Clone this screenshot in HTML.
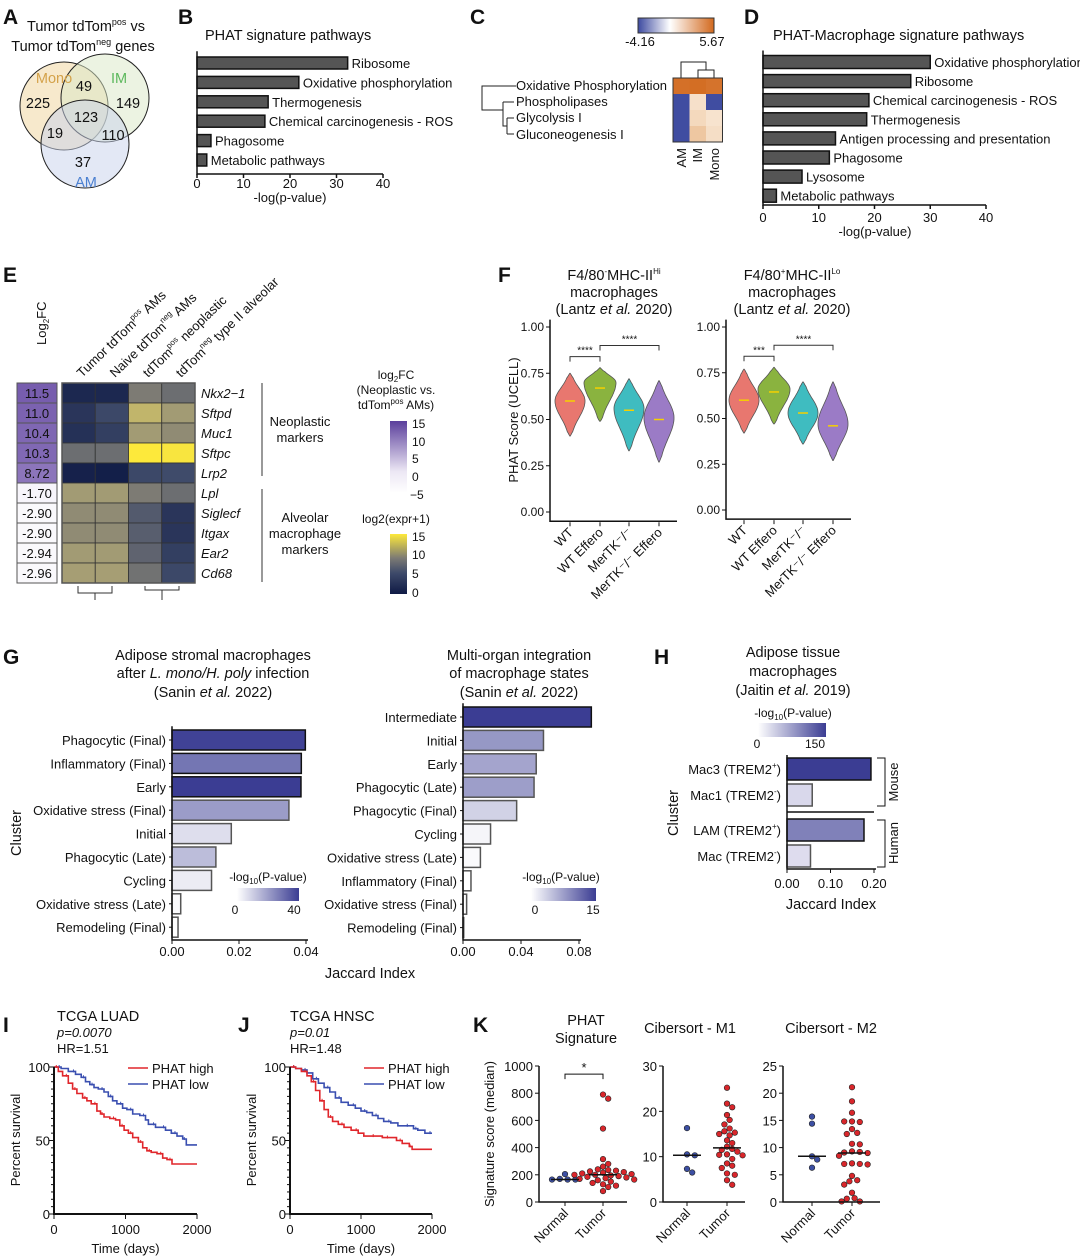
<!DOCTYPE html>
<html><head><meta charset="utf-8">
<style>
html,body{margin:0;padding:0;background:#fff;}
svg{display:block;font-family:"Liberation Sans",Arial,sans-serif;}
text{fill:#111;}
.pl{font-weight:bold;font-size:21px;}
.t{font-size:14.5px;}
.s{font-size:13px;}
.xs{font-size:12px;}
</style></head>
<body>
<svg id="fig" width="1080" height="1256" viewBox="0 0 1080 1256" xmlns="http://www.w3.org/2000/svg">
<!-- Panel letters -->
<text class="pl" x="3" y="24">A</text>
<text class="pl" x="178" y="24">B</text>
<text class="pl" x="470" y="24">C</text>
<text class="pl" x="744" y="24">D</text>
<text class="pl" x="3" y="282">E</text>
<text class="pl" x="498" y="282">F</text>
<text class="pl" x="3" y="664">G</text>
<text class="pl" x="654" y="664">H</text>
<text class="pl" x="3" y="1032">I</text>
<text class="pl" x="238" y="1032">J</text>
<text class="pl" x="473" y="1032">K</text>

<!-- Panel A Venn -->
<g>
<text class="t" x="86" y="31" text-anchor="middle">Tumor tdTom<tspan font-size="9" dy="-6">pos</tspan><tspan dy="6"> vs</tspan></text>
<text class="t" x="83" y="51" text-anchor="middle">Tumor tdTom<tspan font-size="9" dy="-6">neg</tspan><tspan dy="6"> genes</tspan></text>
<circle cx="64" cy="106" r="44" fill="#f0d49a" fill-opacity="0.5" stroke="#222" stroke-width="1"/>
<circle cx="105" cy="98" r="44" fill="#d9e8c6" fill-opacity="0.5" stroke="#222" stroke-width="1"/>
<circle cx="85" cy="144" r="44" fill="#c8d2ec" fill-opacity="0.5" stroke="#222" stroke-width="1"/>
<text class="t" x="54" y="83" text-anchor="middle" style="fill:#d4a24a">Mono</text>
<text class="t" x="119" y="83" text-anchor="middle" style="fill:#5cb85c">IM</text>
<text class="t" x="86" y="187" text-anchor="middle" style="fill:#4a7fd0">AM</text>
<text class="t" x="84" y="91" text-anchor="middle">49</text>
<text class="t" x="38" y="108" text-anchor="middle">225</text>
<text class="t" x="128" y="108" text-anchor="middle">149</text>
<text class="t" x="86" y="122" text-anchor="middle">123</text>
<text class="t" x="55" y="138" text-anchor="middle">19</text>
<text class="t" x="113" y="140" text-anchor="middle">110</text>
<text class="t" x="83" y="167" text-anchor="middle">37</text>
</g>

<!-- Panel C static -->
<g>
<defs>
<linearGradient id="gC" x1="0" x2="1"><stop offset="0" stop-color="#3d4aa0"/><stop offset="0.42" stop-color="#ffffff"/><stop offset="1" stop-color="#d2691e"/></linearGradient>
<linearGradient id="gPur" x1="0" x2="0" y1="1" y2="0"><stop offset="0" stop-color="#ffffff"/><stop offset="0.3" stop-color="#ece7f4"/><stop offset="1" stop-color="#5b3f9c"/></linearGradient>
<linearGradient id="gExp" x1="0" x2="0" y1="1" y2="0"><stop offset="0" stop-color="#0f1a45"/><stop offset="0.35" stop-color="#3e4a6a"/><stop offset="0.6" stop-color="#7d7b74"/><stop offset="1" stop-color="#fde93b"/></linearGradient>
<linearGradient id="gG1" x1="0" x2="1"><stop offset="0" stop-color="#ffffff"/><stop offset="1" stop-color="#3b3d93"/></linearGradient>
</defs>
<rect x="638" y="18" width="76" height="15" fill="url(#gC)" stroke="#333"/>
<text class="s" x="640" y="46" text-anchor="middle">-4.16</text>
<text class="s" x="712" y="46" text-anchor="middle">5.67</text>
<path d="M516 86 H482 V110 H503 M503 102 V126 M503 102 H514 M503 118 V126 H507 M507 118 V134 M507 118 H514 M507 134 H514" fill="none" stroke="#222"/>
<path d="M681 78 V62 H706 V70 M698 78 V70 H714 V78" fill="none" stroke="#222"/>
<text class="s" x="516" y="90">Oxidative Phosphorylation</text>
<text class="s" x="516" y="106">Phospholipases</text>
<text class="s" x="516" y="122">Glycolysis I</text>
<text class="s" x="516" y="139">Gluconeogenesis I</text>
<g id="cHeat"></g>
<text class="s" transform="translate(686,148) rotate(-90)" text-anchor="end">AM</text>
<text class="s" transform="translate(702,148) rotate(-90)" text-anchor="end">IM</text>
<text class="s" transform="translate(719,148) rotate(-90)" text-anchor="end">Mono</text>
</g>

<g id="panelB">
<text class="t" x="205" y="40">PHAT signature pathways</text>
</g>
<g id="panelD">
<text class="t" x="773" y="40">PHAT-Macrophage signature pathways</text>
</g>

<!-- Panel E static -->
<g id="panelE">
<text class="s" transform="translate(46,345) rotate(-90)">Log<tspan font-size="8" dy="3">2</tspan><tspan dy="-3">FC</tspan></text>
<line x1="262" y1="383" x2="262" y2="476" stroke="#333"/>
<line x1="262" y1="489" x2="262" y2="582" stroke="#333"/>
<text class="s" x="300" y="426" text-anchor="middle">Neoplastic</text>
<text class="s" x="300" y="442" text-anchor="middle">markers</text>
<text class="s" x="305" y="522" text-anchor="middle">Alveolar</text>
<text class="s" x="305" y="538" text-anchor="middle">macrophage</text>
<text class="s" x="305" y="554" text-anchor="middle">markers</text>
<text class="xs" x="396" y="379" text-anchor="middle">log<tspan font-size="8" dy="3">2</tspan><tspan dy="-3">FC</tspan></text>
<text class="xs" x="396" y="394" text-anchor="middle">(Neoplastic vs.</text>
<text class="xs" x="396" y="409" text-anchor="middle">tdTom<tspan font-size="8" dy="-5">pos</tspan><tspan dy="5"> AMs)</tspan></text>
<rect x="390" y="421" width="17" height="72" fill="url(#gPur)"/>
<text class="xs" x="412" y="428">15</text>
<text class="xs" x="412" y="446">10</text>
<text class="xs" x="412" y="463">5</text>
<text class="xs" x="412" y="481">0</text>
<text class="xs" x="410" y="499">−5</text>
<text class="xs" x="396" y="523" text-anchor="middle">log2(expr+1)</text>
<rect x="390" y="534" width="17" height="60" fill="url(#gExp)"/>
<text class="xs" x="412" y="541">15</text>
<text class="xs" x="412" y="559">10</text>
<text class="xs" x="412" y="578">5</text>
<text class="xs" x="412" y="597">0</text>
<path d="M78 586 V593 H112 V586 M95 593 V600 M145 586 V590 H179 V586 M162 590 V600" fill="none" stroke="#333"/>
</g>

<g id="panelF">
<text font-size="13" transform="translate(518,420) rotate(-90)" text-anchor="middle">PHAT Score (UCELL)</text>
<text class="t" x="614" y="280" text-anchor="middle">F4/80<tspan font-size="8" dy="-6">-</tspan><tspan dy="6">MHC-II</tspan><tspan font-size="8" dy="-6">Hi</tspan></text>
<text class="t" x="614" y="297" text-anchor="middle">macrophages</text>
<text class="t" x="614" y="314" text-anchor="middle">(Lantz <tspan font-style="italic">et al.</tspan> 2020)</text>
<text class="t" x="792" y="280" text-anchor="middle">F4/80<tspan font-size="8" dy="-6">+</tspan><tspan dy="6">MHC-II</tspan><tspan font-size="8" dy="-6">Lo</tspan></text>
<text class="t" x="792" y="297" text-anchor="middle">macrophages</text>
<text class="t" x="792" y="314" text-anchor="middle">(Lantz <tspan font-style="italic">et al.</tspan> 2020)</text>
</g>

<g id="panelG">
<text class="t" x="213" y="660" text-anchor="middle">Adipose stromal macrophages</text>
<text class="t" x="213" y="678" text-anchor="middle">after <tspan font-style="italic">L. mono/H. poly</tspan> infection</text>
<text class="t" x="213" y="697" text-anchor="middle">(Sanin <tspan font-style="italic">et al.</tspan> 2022)</text>
<text class="t" x="519" y="660" text-anchor="middle">Multi-organ integration</text>
<text class="t" x="519" y="678" text-anchor="middle">of macrophage states</text>
<text class="t" x="519" y="697" text-anchor="middle">(Sanin <tspan font-style="italic">et al.</tspan> 2022)</text>
<text class="t" transform="translate(21,833) rotate(-90)" text-anchor="middle">Cluster</text>
<text class="t" x="370" y="978" text-anchor="middle">Jaccard Index</text>
<text class="xs" x="268" y="881" text-anchor="middle">-log<tspan font-size="8" dy="3">10</tspan><tspan dy="-3">(P-value)</tspan></text>
<rect x="237" y="888" width="62" height="13" fill="url(#gG1)"/>
<text class="xs" x="235" y="914" text-anchor="middle">0</text>
<text class="xs" x="294" y="914" text-anchor="middle">40</text>
<text class="xs" x="561" y="881" text-anchor="middle">-log<tspan font-size="8" dy="3">10</tspan><tspan dy="-3">(P-value)</tspan></text>
<rect x="531" y="888" width="65" height="13" fill="url(#gG1)"/>
<text class="xs" x="535" y="914" text-anchor="middle">0</text>
<text class="xs" x="593" y="914" text-anchor="middle">15</text>
</g>

<g id="panelH">
<text class="t" x="793" y="657" text-anchor="middle">Adipose tissue</text>
<text class="t" x="793" y="676" text-anchor="middle">macrophages</text>
<text class="t" x="793" y="695" text-anchor="middle">(Jaitin <tspan font-style="italic">et al.</tspan> 2019)</text>
<text class="xs" x="793" y="717" text-anchor="middle">-log<tspan font-size="8" dy="3">10</tspan><tspan dy="-3">(P-value)</tspan></text>
<rect x="758" y="723" width="68" height="14" fill="url(#gG1)"/>
<text class="xs" x="757" y="748" text-anchor="middle">0</text>
<text class="xs" x="815" y="748" text-anchor="middle">150</text>
<text class="t" transform="translate(678,813) rotate(-90)" text-anchor="middle">Cluster</text>
<text class="t" x="831" y="909" text-anchor="middle">Jaccard Index</text>
<line x1="787" y1="812" x2="874" y2="812" stroke="#111" stroke-width="1.5"/>
<path d="M877 758 H885 V806 H877" fill="none" stroke="#111"/>
<path d="M877 820 H885 V867 H877" fill="none" stroke="#111"/>
<text class="s" transform="translate(898,782) rotate(-90)" text-anchor="middle">Mouse</text>
<text class="s" transform="translate(898,843) rotate(-90)" text-anchor="middle">Human</text>
</g>

<g id="panelIJ">
<text class="t" x="57" y="1021">TCGA LUAD</text>
<text class="s" x="57" y="1037" font-style="italic">p=0.0070</text>
<text class="s" x="57" y="1053">HR=1.51</text>
<text class="t" x="290" y="1021">TCGA HNSC</text>
<text class="s" x="290" y="1037" font-style="italic">p=0.01</text>
<text class="s" x="290" y="1053">HR=1.48</text>
</g>

<g id="panelK">
<text class="t" x="586" y="1025" text-anchor="middle">PHAT</text>
<text class="t" x="586" y="1043" text-anchor="middle">Signature</text>
<text class="t" x="690" y="1033" text-anchor="middle">Cibersort - M1</text>
<text class="t" x="831" y="1033" text-anchor="middle">Cibersort - M2</text>
<text class="s" transform="translate(494,1134) rotate(-90)" text-anchor="middle">Signature score (median)</text>
</g>
</svg>

<script>
// ---------- DATA ----------
const bCategories = ["Ribosome","Oxidative phosphorylation","Thermogenesis","Chemical carcinogenesis - ROS","Phagosome","Metabolic pathways"];
const bValues = [32.4, 21.9, 15.3, 14.6, 3.0, 2.1];
const bTicks = [0,10,20,30,40];
const dCategories = ["Oxidative phosphorylation","Ribosome","Chemical carcinogenesis - ROS","Thermogenesis","Antigen processing and presentation","Phagosome","Lysosome","Metabolic pathways"];
const dValues = [30.0, 26.5, 19.0, 18.6, 13.0, 11.9, 7.0, 2.4];
const dTicks = [0,10,20,30,40];
const cRows = ["Oxidative Phosphorylation","Phospholipases","Glycolysis I","Gluconeogenesis I"];
const cCols = ["AM","IM","Mono"];
const cValues = [[5.4,5.5,5.3],[-4.1,1.2,-4.1],[-4.1,1.5,1.1],[-4.1,2.2,1.3]];
const eGenes = ["Nkx2\u22121","Sftpd","Muc1","Sftpc","Lrp2","Lpl","Siglecf","Itgax","Ear2","Cd68"];
const eLog2FC = [11.5, 11.0, 10.4, 10.3, 8.72, -1.70, -2.90, -2.90, -2.94, -2.96];
const eLog2FCLabels = ["11.5","11.0","10.4","10.3","8.72","-1.70","-2.90","-2.90","-2.94","-2.96"];
const eExpr = [[1.5,1.5,9,8],[3,5,12.5,11],[2.5,4,11,10],[8,8,15,14.8],[0.8,0.5,5,5.3],[11,11,9,8],[10,10,6.5,3],[10,10,6.8,3],[11,11,7.2,4],[11.2,11.2,8.3,5]];
const eColumns = ["Tumor tdTom|pos| AMs","Naive tdTom|neg| AMs","tdTom|pos| neoplastic","tdTom|neg| type II alveolar"];
const fGroups = ["WT","WT Effero","MerTK\u207B/\u207B","MerTK\u207B/\u207B Effero"];
const fLeftMin = [0.41,0.49,0.33,0.27];
const fLeftMax = [0.75,0.78,0.72,0.71];
const fLeftMedian = [0.60,0.67,0.55,0.50];
const fLeftMode = [0.60,0.70,0.56,0.51];
const fRightMin = [0.42,0.47,0.36,0.27];
const fRightMax = [0.77,0.78,0.70,0.70];
const fRightMedian = [0.60,0.645,0.53,0.46];
const fRightMode = [0.60,0.66,0.53,0.47];
const fTicks = [0,0.25,0.5,0.75,1.0];
const fTickLabels = ["0.00","0.25","0.50","0.75","1.00"];
const gLeftCats = ["Phagocytic (Final)","Inflammatory (Final)","Early","Oxidative stress (Final)","Initial","Phagocytic (Late)","Cycling","Oxidative stress (Late)","Remodeling (Final)"];
const gLeftValues = [0.0398,0.0386,0.0385,0.0349,0.0177,0.0131,0.0118,0.0026,0.0018];
const gLeftP = [40,29,41,21,7,14,4,1,0];
const gRightCats = ["Intermediate","Initial","Early","Phagocytic (Late)","Phagocytic (Final)","Cycling","Oxidative stress (Late)","Inflammatory (Final)","Oxidative stress (Final)","Remodeling (Final)"];
const gRightValues = [0.0885,0.0555,0.0505,0.0490,0.0370,0.0190,0.0120,0.0055,0.0025,0.0005];
const gRightP = [15,8,7,7.5,3.5,0.8,0.4,0,0,0];
const gLeftTicks = [0,0.02,0.04];
const gRightTicks = [0,0.04,0.08];
const hCats = ["Mac3 (TREM2|+|)","Mac1 (TREM2|-|)","LAM (TREM2|+|)","Mac (TREM2|-|)"];
const hValues = [0.193,0.058,0.177,0.054];
const hP = [175,15,105,10];
const hTicks = [0,0.1,0.2];
const iHighT = [0,60,120,200,260,320,400,460,520,600,650,700,780,860,920,980,1040,1100,1180,1240,1300,1360,1440,1520,1580,1650,2000];
const iHighS = [100,97,94,89,85,82,79,77,75,70,68,66,65,64,60,57,55,52,49,45,43,42,41,38,37,34,34];
const iLowT  = [0,100,200,300,380,440,500,560,620,700,760,820,880,960,1020,1100,1200,1280,1320,1420,1500,1560,1640,1720,1800,1850,2000];
const iLowS  = [100,99,97,95,93,90,88,86,85,83,80,77,75,72,71,68,67,64,61,59,59,57,55,53,51,47,47];
const jHighT = [0,80,160,240,300,360,420,480,540,600,680,760,860,960,1040,1200,1300,1400,1500,1580,1680,1720,2000];
const jHighS = [100,99,97,94,90,84,77,71,66,63,61,59,57,55,53,53,52,52,50,48,46,44,44];
const jLowT  = [0,80,160,240,320,400,480,560,640,720,820,920,1000,1080,1160,1240,1320,1420,1520,1680,1740,1800,1900,2000];
const jLowS  = [100,99,98,96,92,89,86,83,79,76,74,72,70,69,67,65,63,62,60,60,58,57,55,55];
const survTicksX = [0,1000,2000];
const survTicksY = [0,50,100];
const kCats = ["Normal","Tumor"];
const kPhatNormal = [205,165,170,165,165];
const kPhatTumor = [790,760,540,315,280,260,240,235,230,225,220,215,210,205,200,200,195,190,185,180,175,170,165,160,150,140,130,120,110,80];
const kM1Normal = [16.3,10.5,10.3,7.3,6.5];
const kM1Tumor = [25.2,21.7,20.9,19.2,18.1,17.1,16.2,15.6,15.3,15.0,14.7,13.6,13.0,12.2,11.7,11.5,11.1,10.5,10.4,10.3,9.5,8.5,8.0,7.5,6.3,6.0,4.8,3.8];
const kM2Normal = [15.7,14.4,8.4,7.8,6.3];
const kM2Tumor = [21.1,18.5,16.4,14.8,14.7,14.8,13.4,12.7,12.5,10.7,10.6,9.3,9.2,9.1,9.0,8.5,7.1,7.0,7.0,6.9,4.8,4.0,3.8,3.2,1.7,0.7,0.6,0.1,0.1];
const kPhatTicks = [0,200,400,600,800,1000];
const kM1Ticks = [0,10,20,30];
const kM2Ticks = [0,5,10,15,20,25];

// ---------- HELPERS ----------
const NS = "http://www.w3.org/2000/svg";
function mk(tag, attrs, parent){ const e=document.createElementNS(NS,tag); for(const k in attrs) e.setAttribute(k,attrs[k]); (parent||document.getElementById('fig')).appendChild(e); return e; }
function lerp(a,b,t){return a+(b-a)*t;}
function hex(c){return [parseInt(c.slice(1,3),16),parseInt(c.slice(3,5),16),parseInt(c.slice(5,7),16)];}
function mix(stops, t){ t=Math.max(0,Math.min(1,t)); for(let i=0;i<stops.length-1;i++){ const [p0,c0]=stops[i],[p1,c1]=stops[i+1]; if(t<=p1){ const u=(t-p0)/(p1-p0||1); const a=hex(c0),b=hex(c1); return 'rgb('+a.map((v,j)=>Math.round(lerp(v,b[j],u))).join(',')+')'; } } return stops[stops.length-1][1]; }
function supText(parent, x, y, str, cls, anchor){
  const t=mk('text',{x:x,y:y,'class':cls,'text-anchor':anchor||'start'},parent);
  const parts=str.split('|');
  parts.forEach((p,i)=>{ const ts=mk('tspan',{},t); if(i%2===1){ts.setAttribute('font-size','8');ts.setAttribute('dy','-6');} else if(i>0){ts.setAttribute('dy','6');} ts.textContent=p; });
  return t;
}

// ---------- Panel B & D ----------
function hbar(gid, cats, vals, ticks, x0, x1, y0, step, bh, axisY, tickY, title, titleX, prefix){
  const g=document.getElementById(gid);
  const sx=v=>x0+(v-ticks[0])/(ticks[ticks.length-1]-ticks[0])*(x1-x0);
  cats.forEach((c,i)=>{
    const y=y0+i*step;
    const r=mk('rect',{x:sx(0),y:y-bh/2,width:sx(vals[i])-sx(0),height:bh,fill:'#555',stroke:'#111','stroke-width':1.5},g);
    
    
    const t=mk('text',{x:sx(vals[i])+4,y:y+5,'class':'s'},g); t.textContent=c;
    
    
  });
  const ax=mk('path',{d:`M${x0} ${y0-step/2-2} V${axisY} H${x1}`,fill:'none',stroke:'#111','stroke-width':1.5},g);
  
  
  ticks.forEach(v=>{
    mk('line',{x1:sx(v),x2:sx(v),y1:axisY,y2:axisY+4,stroke:'#111','stroke-width':1.5},g);
    const t=mk('text',{x:sx(v),y:tickY,'text-anchor':'middle','class':'s'},g); t.textContent=v;
    
    
  });
  const tt=mk('text',{x:titleX,y:tickY+14,'text-anchor':'middle','class':'s'},g); tt.textContent=title;
  
  
}
hbar('panelB',bCategories,bValues,bTicks,197,383,63,19.4,12,174,188,'-log(p-value)',290,'b');
hbar('panelD',dCategories,dValues,dTicks,763,986,62,19.1,13,205,222,'-log(p-value)',875,'d');

// ---------- Panel C ----------
(function(){
  const g=document.getElementById('cHeat');
  const stopsC=[[0,'#3d4aa0'],[0.42,'#ffffff'],[0.6,'#f2d3b3'],[1,'#d2691e']];
  cValues.forEach((row,i)=>row.forEach((v,j)=>{
    const r=mk('rect',{x:673+j*16.5,y:78+i*16,width:16.5,height:16,fill:mix(stopsC,(v+4.16)/9.83)},g);
    
    
  }));
  const b=mk('rect',{x:673,y:78,width:49.5,height:64,fill:'none',stroke:'#333'},g);
  
  
})();

// ---------- Panel E ----------
(function(){
  const g=document.getElementById('panelE');
  const stopsP=[[0,'#ffffff'],[0.3,'#f1edf7'],[0.6,'#9a84c4'],[1,'#5b3f9c']];
  const stopsE=[[0,'#0f1a45'],[0.35,'#3e4a6a'],[0.6,'#7d7b74'],[0.8,'#b5ab74'],[1,'#fde93b']];
  const y0=383,h=20;
  eGenes.forEach((gn,i)=>{
    const y=y0+i*h;
    const r=mk('rect',{x:17,y:y,width:40,height:h,fill:mix(stopsP,(eLog2FC[i]+5)/20),stroke:'#555','stroke-width':1},g);
    
    
    const t=mk('text',{x:37,y:y+15,'text-anchor':'middle','class':'s'},g); t.textContent=eLog2FCLabels[i];
    
    
    eExpr[i].forEach((v,j)=>{
      const c=mk('rect',{x:62+j*33.25,y:y,width:33.25,height:h,fill:mix(stopsE,v/15),stroke:'#333','stroke-width':0.8},g);
      
      
    });
    const gl=mk('text',{x:201,y:y+15,'class':'s','font-style':'italic'},g); gl.textContent=gn;
    
    
  });
  const bd=mk('rect',{x:62,y:y0,width:133,height:200,fill:'none',stroke:'#555','stroke-width':1.5},g);
  
  
  eColumns.forEach((c,j)=>{
    const x=82+j*33, y=378;
    const t=mk('text',{transform:`translate(${x},${y}) rotate(-44)`,'class':'s'},g);
    c.split('|').forEach((p,k)=>{ const ts=mk('tspan',{},t); if(k%2===1){ts.setAttribute('font-size','8');ts.setAttribute('dy','-6');} else if(k>0){ts.setAttribute('dy','6');} ts.textContent=p; });
    
    
  });
})();

// ---------- Panel F ----------
function violinPanel(ax0, ax1, y0v, y1v, cx, mins, maxs, meds, modes, stars, prefix){
  const g=document.getElementById('panelF');
  const sy=v=>y0v+(y1v-y0v)*v;
  const cols=['#e8776f','#8ab33f','#3fbcc0','#9b7bc6'];
  const hw=[15,16,15,15];
  fGroups.forEach((grp,i)=>{
    const N=40, L=[], R=[];
    for(let k=0;k<=N;k++){
      const v=mins[i]+(maxs[i]-mins[i])*k/N;
      const s=v<modes[i]?(modes[i]-mins[i])/1.5:(maxs[i]-modes[i])/1.5;
      let w=hw[i]*Math.exp(-Math.pow((v-modes[i])/s,2));
      w*=Math.min(1,Math.sqrt(Math.min(k,N-k)/3+0.01));
      L.push([cx[i]-w,sy(v)]); R.push([cx[i]+w,sy(v)]);
    }
    const pts=L.concat(R.reverse());
    const p=mk('path',{d:'M'+pts.map(q=>q[0].toFixed(1)+' '+q[1].toFixed(1)).join(' L')+'Z',fill:cols[i],stroke:'#555','stroke-width':0.8},g);
    
    
    const m=mk('line',{x1:cx[i]-5,x2:cx[i]+5,y1:sy(meds[i]),y2:sy(meds[i]),stroke:'#f5d000','stroke-width':1.5},g);
    
    
    mk('line',{x1:cx[i],x2:cx[i],y1:sy(-0.05)+1,y2:sy(-0.05)+5,stroke:'#111'},g);
    const t=mk('text',{transform:`translate(${cx[i]+4},${sy(-0.05)+12}) rotate(-45)`,'text-anchor':'end','class':'s'},g); t.textContent=grp;
    
    
  });
  const a=mk('path',{d:`M${ax0} ${sy(1.04)} V${sy(-0.05)} H${ax1}`,fill:'none',stroke:'#111','stroke-width':1.5},g);
  
  
  fTicks.forEach((v,k)=>{
    mk('line',{x1:ax0-4,x2:ax0,y1:sy(v),y2:sy(v),stroke:'#111'},g);
    const t=mk('text',{x:ax0-6,y:sy(v)+4,'text-anchor':'end','class':'xs'},g); t.textContent=fTickLabels[k];
    
    
  });
  const br=[[0,1,0.84,stars[0]],[1,3,0.90,stars[1]]];
  br.forEach(b=>{
    const y=sy(b[2]);
    const p=mk('path',{d:`M${cx[b[0]]} ${y+5} V${y} H${cx[b[1]]} V${y+5}`,fill:'none',stroke:'#333'},g);
    
    
    const t=mk('text',{x:(cx[b[0]]+cx[b[1]])/2,y:y-3,'text-anchor':'middle','font-size':'10'},g); t.textContent=b[3];
    
    
  });
}
violinPanel(550,677,512,327,[570,600,629,659],fLeftMin,fLeftMax,fLeftMedian,fLeftMode,['****','****'],'f-left');
violinPanel(726,851,510,327,[744,774,803,833],fRightMin,fRightMax,fRightMedian,fRightMode,['***','****'],'f-right');

// ---------- Panel G & H ----------
const stopsG=[[0,'#ffffff'],[1,'#3b3d93']];
function gbar(gid, cats, vals, pv, pmax, ticks, x0, x1, y0, step, bh, axisY, labX, prefix){
  const g=document.getElementById(gid);
  const sx=v=>x0+(v-ticks[0])/(ticks[ticks.length-1]-ticks[0])*(x1-x0);
  cats.forEach((c,i)=>{
    const y=y0+i*step;
    const r=mk('rect',{x:sx(0),y:y-bh/2,width:Math.max(0.5,sx(vals[i])-sx(0)),height:bh,fill:mix(stopsG,pv[i]/pmax),stroke:pv[i]/pmax>0.6?'#111':'#555','stroke-width':1.5},g);
    
    
    const t=mk('text',{x:labX,y:y+5,'text-anchor':'end','class':'s'},g); t.textContent=c;
    
    
    mk('line',{x1:sx(0)-3,x2:sx(0),y1:y,y2:y,stroke:'#111'},g);
  });
  const a=mk('path',{d:`M${x0} ${y0-step/2-2} V${axisY} H${x1+2}`,fill:'none',stroke:'#111','stroke-width':1.5},g);
  
  
  ticks.forEach(v=>{
    mk('line',{x1:sx(v),x2:sx(v),y1:axisY,y2:axisY+4,stroke:'#111'},g);
    const t=mk('text',{x:sx(v),y:axisY+16,'text-anchor':'middle','class':'s'},g); t.textContent=v.toFixed(2);
    
    
  });
}
gbar('panelG',gLeftCats,gLeftValues,gLeftP,41,gLeftTicks,172,306,740,23.4,20,940,166,'g-left');
gbar('panelG',gRightCats,gRightValues,gRightP,15,gRightTicks,463,579,717,23.4,20,940,457,'g-right');
(function(){
  const g=document.getElementById('panelH');
  const sx=v=>787+v/0.2*87;
  const ys=[769,795,830,856];
  hCats.forEach((c,i)=>{
    const r=mk('rect',{x:sx(0),y:ys[i]-11,width:sx(hValues[i])-sx(0),height:22,fill:mix([[0,'#e8e6f3'],[1,'#3b3d93']],hP[i]/175),stroke:hP[i]>50?'#111':'#555','stroke-width':1.5},g);
    
    
    const t=supText(g,781,ys[i]+5,c,'s','end');
    
    
  });
  const a=mk('path',{d:`M787 755 V869 H876`,fill:'none',stroke:'#111','stroke-width':1.5},g);
  
  
  hTicks.forEach(v=>{
    mk('line',{x1:sx(v),x2:sx(v),y1:869,y2:873,stroke:'#111'},g);
    const t=mk('text',{x:sx(v),y:888,'text-anchor':'middle','class':'s'},g); t.textContent=v.toFixed(2);
    
    
  });
})();

// ---------- Panel I & J ----------
function surv(x0,x1,highT,highS,lowT,lowS,prefix,legX){
  const g=document.getElementById('panelIJ');
  const yT=1067,yB=1214;
  const sx=t=>x0+t/2000*(x1-x0), sy=s=>yB-(s/100)*(yB-yT);
  function step(T,S,col,name){
    let d=`M${sx(T[0])} ${sy(S[0])}`;
    for(let k=1;k<T.length;k++){ d+=` H${sx(T[k]).toFixed(1)} V${sy(S[k]).toFixed(1)}`; }
    const p=mk('path',{d:d,fill:'none',stroke:col,'stroke-width':1.6},g);
    
    
    for(let k=1;k<T.length;k+=2){ mk('line',{x1:sx(T[k])-2,x2:sx(T[k])-2,y1:sy(S[k-1])-2,y2:sy(S[k-1])+1,stroke:col,'stroke-width':1},g); }
  }
  step(lowT,lowS,'#3a4fb0',prefix+'-curve-low');
  step(highT,highS,'#e0262b',prefix+'-curve-high');
  const a=mk('path',{d:`M${x0} ${yT} V${yB} H${x1}`,fill:'none',stroke:'#111','stroke-width':2},g);
  
  
  for(let v=0;v<=100;v+=5){ mk('line',{x1:x0-(v%50===0?5:3),x2:x0,y1:sy(v),y2:sy(v),stroke:'#111'},g); }
  survTicksY.forEach(v=>{ const t=mk('text',{x:x0-4,y:sy(v)+5,'text-anchor':'end','class':'s'},g); t.textContent=v;
    
     });
  survTicksX.forEach(v=>{ mk('line',{x1:sx(v),x2:sx(v),y1:yB,y2:yB+5,stroke:'#111'},g);
    const t=mk('text',{x:sx(v),y:yB+20,'text-anchor':'middle','class':'s'},g); t.textContent=v;
    
     });
  const xt=mk('text',{x:(x0+x1)/2,y:1253,'text-anchor':'middle','class':'s'},g); xt.textContent='Time (days)';
  
  
  const yt=mk('text',{transform:`translate(${x0-34},1140) rotate(-90)`,'text-anchor':'middle','class':'s'},g); yt.textContent='Percent survival';
  
  
  [['PHAT high','#e0262b',1068],['PHAT low','#3a4fb0',1084]].forEach(L=>{
    const ln=mk('line',{x1:legX,x2:legX+20,y1:L[2],y2:L[2],stroke:L[1],'stroke-width':1.6},g);
    
    
    const t=mk('text',{x:legX+24,y:L[2]+5,'class':'s'},g); t.textContent=L[0];
    
    
  });
}
surv(54,197,iHighT,iHighS,iLowT,iLowS,'i',128);
surv(290,432,jHighT,jHighS,jLowT,jLowS,'j',364);

// ---------- Panel K ----------
function dotPlot(ax, x1, cx, normal, tumor, ticks, prefix, sig){
  const g=document.getElementById('panelK');
  const yT=1066,yB=1202, maxV=ticks[ticks.length-1];
  const sy=v=>yB-v/maxV*(yB-yT);
  function swarm(vals, c, col, name){
    const placed=[];
    vals.forEach(v=>{
      const y=sy(v); let off=0, k=0;
      while(placed.some(p=>Math.hypot(p[0]-(c+off),p[1]-y)<5.6) && k<30){ k++; off=(k%2?1:-1)*Math.ceil(k/2)*2.6; }
      placed.push([c+off,y]);
      const d=mk('circle',{cx:c+off,cy:y,r:2.8,fill:col,stroke:'#222','stroke-width':0.6},g);
      
      
    });
  }
  function median(a){const s=[...a].sort((p,q)=>p-q);const n=s.length;return n%2?s[(n-1)/2]:(s[n/2-1]+s[n/2])/2;}
  swarm(normal,cx[0],'#3c4fa3',prefix+'-normal-dot');
  swarm(tumor,cx[1],'#d9262b',prefix+'-tumor-dot');
  [[normal,cx[0]],[tumor,cx[1]]].forEach(q=>{
    const m=mk('line',{x1:q[1]-14,x2:q[1]+14,y1:sy(median(q[0])),y2:sy(median(q[0])),stroke:'#111','stroke-width':1.5},g);
    
    
  });
  const a=mk('path',{d:`M${ax} ${yT} V${yB} H${x1}`,fill:'none',stroke:'#111','stroke-width':1.5},g);
  
  
  ticks.forEach(v=>{ mk('line',{x1:ax-4,x2:ax,y1:sy(v),y2:sy(v),stroke:'#111'},g);
    const t=mk('text',{x:ax-6,y:sy(v)+5,'text-anchor':'end','class':'s'},g); t.textContent=v;
    
     });
  kCats.forEach((c,i)=>{ mk('line',{x1:cx[i],x2:cx[i],y1:yB,y2:yB+4,stroke:'#111'},g);
    const t=mk('text',{transform:`translate(${cx[i]+4},${yB+12}) rotate(-45)`,'text-anchor':'end','class':'s'},g); t.textContent=c;
    
     });
  if(sig){
    const y=sy(sig);
    const p=mk('path',{d:`M${cx[0]} ${y+5} V${y} H${cx[1]} V${y+5}`,fill:'none',stroke:'#111'},g);
    
    
    const t=mk('text',{x:(cx[0]+cx[1])/2,y:y-2,'text-anchor':'middle','class':'s'},g); t.textContent='*';
    
    
  }
}
dotPlot(539,627,[565,603],kPhatNormal,kPhatTumor,kPhatTicks,'k-phat',940);
dotPlot(663,745,[687,727],kM1Normal,kM1Tumor,kM1Ticks,'k-m1',null);
dotPlot(783,880,[812,852],kM2Normal,kM2Tumor,kM2Ticks,'k-m2',null);
</script>
</body></html>
